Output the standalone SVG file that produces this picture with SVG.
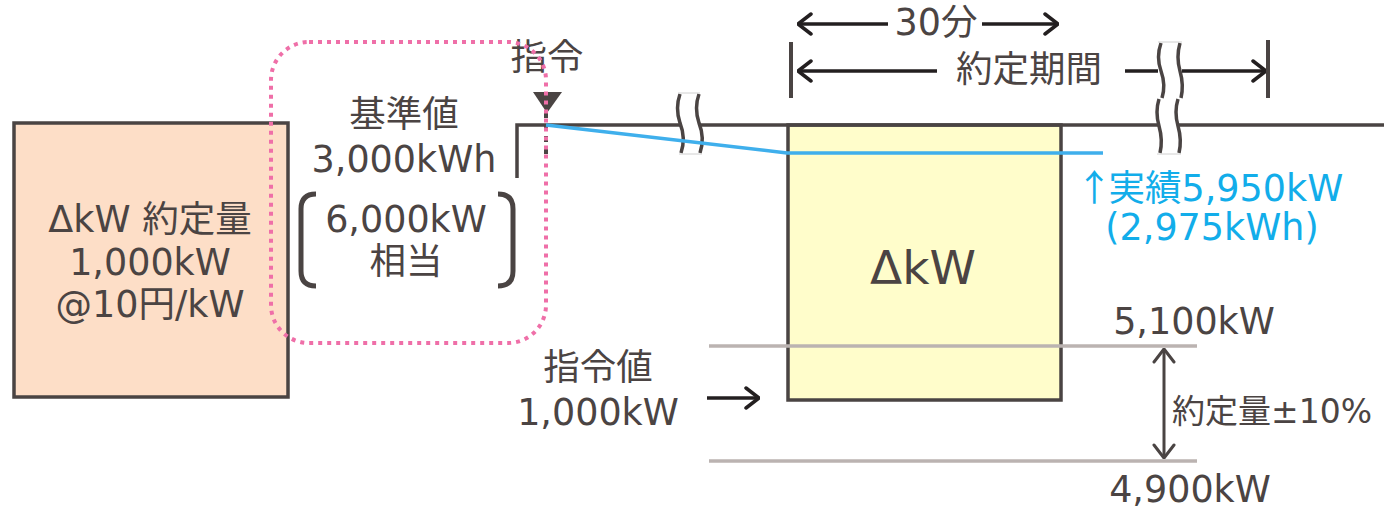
<svg xmlns="http://www.w3.org/2000/svg" width="1384" height="511" viewBox="0 0 1384 511">
<style>
text{font-family:"DejaVu Sans","Noto Sans CJK JP",sans-serif;font-size:36.5px;fill:#4b4443;}
.c{text-anchor:middle;}
.blue{fill:#12adea;}
.cjk{font-family:"Noto Sans CJK JP",sans-serif;}
.box{stroke:#4a4443;stroke-width:3.5;}
.dark{stroke:#4a4443;stroke-width:3.5;fill:none;}
.arr{stroke:#231f20;stroke-width:3.5;fill:none;}
.gray{stroke:#bbb3b1;stroke-width:3.5;fill:none;}
.brk{fill:#fff;stroke:none;}
.wave{stroke:#4a4443;stroke-width:3.5;fill:none;}
.edge{stroke:#d0d0d0;stroke-width:1;}
</style>
<defs>
<marker id="ah" viewBox="0 0 16 24" refX="15" refY="12" markerWidth="16" markerHeight="24" markerUnits="userSpaceOnUse" orient="auto-start-reverse">
<path d="M2,2 L15,12 L2,22" fill="none" stroke="#231f20" stroke-width="3.5" stroke-linecap="round" stroke-linejoin="round"/>
</marker>
<marker id="ahg" viewBox="0 0 16 24" refX="15" refY="12" markerWidth="16" markerHeight="24" markerUnits="userSpaceOnUse" orient="auto-start-reverse">
<path d="M2,2 L15,12 L2,22" fill="none" stroke="#4a4443" stroke-width="3" stroke-linecap="round" stroke-linejoin="round"/>
</marker>
</defs>
<rect width="1384" height="511" fill="#fff"/>

<g id="contract-box">
<rect x="14" y="123" width="274" height="274" fill="#fddec7" class="box"/>
<text x="150" y="232" class="c">ΔkW 約定量</text>
<text x="150" y="275" class="c">1,000kW</text>
<text x="150" y="317" class="c">@10円/kW</text>
</g>

<g id="dkw-box">
<rect x="788" y="125" width="273" height="275" fill="#fffdcb" class="box"/>
<text x="923" y="284" class="c" style="font-size:47px">ΔkW</text>
</g>

<g id="baseline-label">
<text x="404" y="127" class="c">基準値</text>
<text x="404" y="172" class="c">3,000kWh</text>
<text x="406" y="232" class="c">6,000kW</text>
<text x="406" y="274" class="c">相当</text>
<path d="M316,194 Q301,194 301,209 L301,271 Q301,286 316,286" fill="none" stroke="#4a4443" stroke-width="5"/>
<path d="M498,194 Q513,194 513,209 L513,271 Q513,286 498,286" fill="none" stroke="#4a4443" stroke-width="5"/>
</g>

<g id="command-label">
<text x="547" y="70" class="c">指令</text>
<path d="M533,92 L562,92 L547,113 Z" fill="#4a4443"/>
</g>

<g id="command-value">
<text x="598" y="380" class="c">指令値</text>
<text x="598" y="425" class="c">1,000kW</text>
</g>

<g id="period-labels">
<text x="936" y="35" class="c">30分</text>
<text x="1029" y="82" class="c">約定期間</text>
</g>

<g id="result-label">
<text x="1076" y="201" class="blue"><tspan class="cjk">↑</tspan><tspan dx="-4">実績5,950kW</tspan></text>
<text x="1212" y="240" class="c blue">(2,975kWh)</text>
</g>

<g id="range-labels">
<text x="1194" y="334" class="c">5,100kW</text>
<text x="1172" y="423" style="font-size:33px">約定量±10%</text>
<text x="1190" y="502" class="c">4,900kW</text>
</g>

<g id="connectors">
<path d="M517,178 L517,125 L1384,125" class="dark"/>
<line x1="546" y1="112" x2="546" y2="158" stroke="#4a4443" stroke-width="4" stroke-dasharray="6 6"/>
<g>
<path d="M680,94 Q675,108 680,123 Q686,138 681,153 L700,153 Q705,138 699,123 Q694,108 699,94 Z" class="brk"/>
<path d="M680,94 Q675,108 680,123 Q686,138 681,153" class="wave"/>
<path d="M699,94 Q694,108 699,123 Q705,138 700,153" class="wave"/>
<line x1="678" y1="93" x2="700" y2="93" class="edge"/>
<line x1="679" y1="154" x2="702" y2="154" class="edge"/>
</g>
<g>
<path d="M1161,43 Q1156,57 1161,71 Q1166,85 1162,98 L1181,98 Q1184,85 1180,71 Q1176,57 1180,43 Z" class="brk"/>
<path d="M1161,43 Q1156,57 1161,71 Q1166,85 1162,98" class="wave"/>
<path d="M1180,43 Q1176,57 1180,71 Q1184,85 1181,98" class="wave"/>
<line x1="1158" y1="42" x2="1182" y2="42" class="edge"/>
<path d="M1159,99 Q1155,112 1159,126 Q1163,140 1160,153 L1179,153 Q1182,140 1178,126 Q1174,112 1178,99 Z" class="brk"/>
<path d="M1159,99 Q1155,112 1159,126 Q1163,140 1160,153" class="wave"/>
<path d="M1178,99 Q1174,112 1178,126 Q1182,140 1179,153" class="wave"/>
<line x1="1157" y1="154" x2="1181" y2="154" class="edge"/>
</g>
<path d="M546,125 L787,153 L1103,153" fill="none" stroke="#3fafec" stroke-width="3.5"/>
<line x1="709" y1="346" x2="1197" y2="346" class="gray"/>
<line x1="709" y1="461" x2="1197" y2="461" class="gray"/>
<line x1="1164" y1="349" x2="1164" y2="458" stroke="#4a4443" stroke-width="3" marker-start="url(#ahg)" marker-end="url(#ahg)"/>
<line x1="707" y1="398" x2="759" y2="398" class="arr" marker-end="url(#ah)"/>
<line x1="798" y1="24" x2="888" y2="24" class="arr" marker-start="url(#ah)"/>
<line x1="982" y1="24" x2="1058" y2="24" class="arr" marker-end="url(#ah)"/>
<line x1="791" y1="42" x2="791" y2="98" stroke="#4a4443" stroke-width="4"/>
<line x1="798" y1="71" x2="937" y2="71" class="arr" marker-start="url(#ah)"/>
<line x1="1125" y1="71" x2="1158" y2="71" class="arr"/>
<line x1="1182" y1="71" x2="1266" y2="71" class="arr" marker-end="url(#ah)"/>
<line x1="1268" y1="40" x2="1268" y2="98" stroke="#4a4443" stroke-width="4"/>
<rect x="271" y="42" width="275" height="301" rx="38" fill="none" stroke="#ef6fa8" stroke-width="4" stroke-dasharray="4 5"/>
</g>
</svg>
